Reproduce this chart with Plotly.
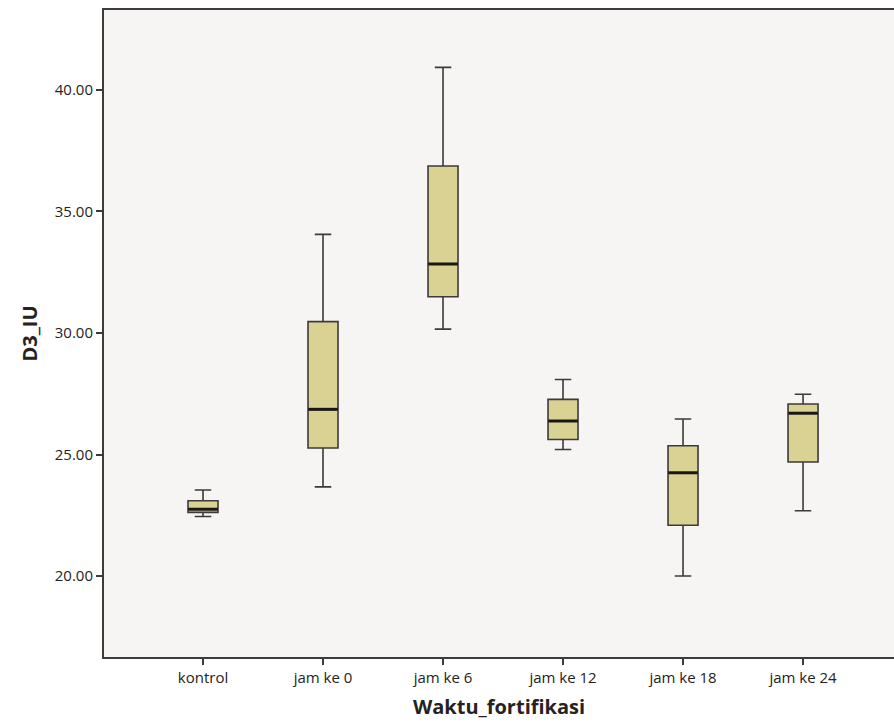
import plotly.graph_objects as go

categories = ["kontrol", "jam ke 0", "jam ke 6", "jam ke 12", "jam ke 18", "jam ke 24"]
lower_whisker = [22.45, 23.67, 30.16, 25.21, 20.00, 22.69]
q1 = [22.62, 25.27, 31.49, 25.62, 22.09, 24.69]
median = [22.75, 26.86, 32.84, 26.38, 24.25, 26.70]
q3 = [23.10, 30.47, 36.87, 27.27, 25.36, 27.08]
upper_whisker = [23.54, 34.06, 40.93, 28.09, 26.46, 27.48]
y_ticks = [20, 25, 30, 35, 40]

FONT = "Open Sans"
TXT = "#262222"
LINE = "#3c3a3a"

fig = go.Figure()
fig.add_trace(go.Box(
    x=categories,
    q1=q1, median=median, q3=q3,
    lowerfence=lower_whisker, upperfence=upper_whisker,
    fillcolor="#d9d292",
    line=dict(color=LINE, width=1.6),
    width=0.25,
    whiskerwidth=0.55,
    boxpoints=False,
    hoverinfo="skip",
    showlegend=False,
))
# thicker median bars
fig.add_trace(go.Scatter(
    x=categories, y=median, mode="markers",
    marker=dict(symbol="line-ew", size=21, line=dict(color="#1a1616", width=3)),
    hoverinfo="skip", showlegend=False,
))

fig.update_layout(
    width=894, height=728,
    margin=dict(l=104, r=0, t=10, b=71),
    paper_bgcolor="white",
    plot_bgcolor="#f6f5f3",
    font=dict(family=FONT, color=TXT, size=15),
    xaxis=dict(
        type="category",
        range=[-0.825, 5.758],
        showline=True, linecolor=LINE, linewidth=2, mirror=True,
        ticks="outside", ticklen=6, tickwidth=2, tickcolor=LINE,
        showgrid=False, zeroline=False,
        tickfont=dict(family=FONT, size=15, color=TXT),
        title=dict(text="<b>Waktu_fortifikasi</b>", font=dict(family=FONT, size=20, color=TXT), standoff=14),
    ),
    yaxis=dict(
        range=[16.67, 43.29],
        tickvals=y_ticks, tickformat=".2f",
        showline=True, linecolor=LINE, linewidth=2, mirror=False,
        ticks="outside", ticklen=6, tickwidth=2, tickcolor=LINE,
        showgrid=False, zeroline=False,
        tickfont=dict(family=FONT, size=15, color=TXT),
        title=dict(text="<b>D3_IU</b>", font=dict(family=FONT, size=20, color=TXT), standoff=12),
    ),
)

fig.write_html(
    "out.html",
    config={"displayModeBar": False},
    post_script="document.body.style.margin='0';document.body.style.overflow='hidden';",
)
